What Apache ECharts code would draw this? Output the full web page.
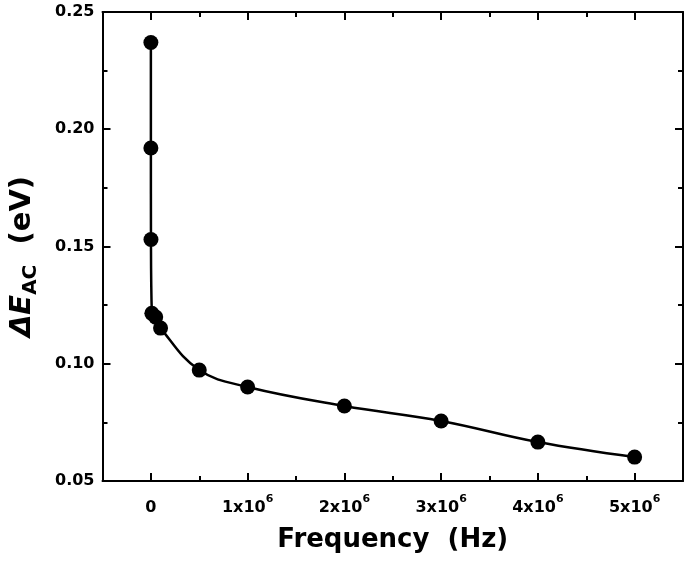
<!DOCTYPE html>
<html>
<head>
<meta charset="utf-8">
<script src="https://cdn.jsdelivr.net/npm/echarts@6/dist/echarts.min.js"></script>
<style>html,body{margin:0;padding:0;background:#fff}#c{width:685px;height:564px}</style>
</head>
<body>
<div id="c"></div>
<script>
// Data
const frequencies = [10, 100, 1000, 10000, 50000, 100000, 500000, 1000000, 2000000, 3000000, 4000000, 5000000];
const deltaE = [0.237, 0.192, 0.153, 0.1215, 0.1199, 0.1152, 0.0973, 0.0901, 0.0820, 0.0756, 0.0666, 0.0602];
const xTickValues = [0, 1000000, 2000000, 3000000, 4000000, 5000000];
const xTickBases = ['0', '1x10', '2x10', '3x10', '4x10', '5x10'];
const xTickExps = ['', '6', '6', '6', '6', '6'];
const yTickValues = [0.05, 0.10, 0.15, 0.20, 0.25];

const FONT = 'DejaVu Sans';
const X_MIN = -500000, X_MAX = 5500000;
const Y_MIN = 0.05, Y_MAX = 0.25;

const chart = echarts.init(document.getElementById('c'), null, {renderer: 'canvas'});
const lineStyleAxis = {color: '#000', width: 2};

function baseX(pos, extra) {
  return Object.assign({
    type: 'value', position: pos, min: X_MIN, max: X_MAX, interval: 500000,
    axisLine: {show: true, onZero: false, lineStyle: lineStyleAxis},
    axisTick: {show: true, inside: true, length: 5, lineStyle: lineStyleAxis},
    axisLabel: {show: false},
    splitLine: {show: false}
  }, extra || {});
}

const option = {
  animation: false,
  backgroundColor: '#fff',
  grid: {left: 100, right: 2, top: 12, bottom: 83, containLabel: false},
  xAxis: [
    baseX('bottom', {
      name: 'Frequency  (Hz)', nameLocation: 'middle', nameGap: 46,
      nameTextStyle: {fontFamily: FONT, fontWeight: 'bold', fontSize: 26, color: '#000'},
      axisLabel: {
        show: true, customValues: xTickValues, margin: 13,
        fontFamily: FONT, fontWeight: 'bold', fontSize: 16, color: '#000',
        formatter: function (v) {
          const i = xTickValues.indexOf(v);
          if (i < 0) return '';
          return '{b|' + xTickBases[i] + '}' + (xTickExps[i] ? '{s|' + xTickExps[i] + '}' : '');
        },
        rich: {
          b: {fontFamily: FONT, fontWeight: 'bold', fontSize: 16, color: '#000', lineHeight: 22, verticalAlign: 'bottom'},
          s: {fontFamily: FONT, fontWeight: 'bold', fontSize: 11, color: '#000', lineHeight: 22, verticalAlign: 'top'}
        }
      }
    }),
    baseX('bottom', {
      axisLine: {show: false},
      axisTick: {show: true, inside: true, length: 8, customValues: xTickValues, lineStyle: lineStyleAxis}
    }),
    baseX('top'),
    baseX('top', {
      axisLine: {show: false},
      axisTick: {show: true, inside: true, length: 8, customValues: xTickValues, lineStyle: lineStyleAxis}
    })
  ],
  yAxis: [
    {
      type: 'value', position: 'left', min: Y_MIN, max: Y_MAX, interval: 0.05,
      name: '{i|ΔE}{s|AC}{n|  (eV)}', nameLocation: 'middle', nameGap: 62, nameRotate: 90,
      nameTextStyle: {
        padding: [0, 20, 0, 0],
        rich: {
          i: {fontFamily: FONT, fontWeight: 'bold', fontStyle: 'italic', fontSize: 29, color: '#000', lineHeight: 36, verticalAlign: 'middle'},
          s: {fontFamily: FONT, fontWeight: 'bold', fontSize: 20, color: '#000', lineHeight: 20, verticalAlign: 'bottom'},
          n: {fontFamily: FONT, fontWeight: 'bold', fontSize: 29, color: '#000', lineHeight: 36, verticalAlign: 'middle'}
        }
      },
      axisLine: {show: true, onZero: false, lineStyle: lineStyleAxis},
      axisTick: {show: true, inside: true, length: 8, lineStyle: lineStyleAxis},
      minorTick: {show: true, splitNumber: 2, length: 5, lineStyle: lineStyleAxis},
      axisLabel: {
        show: true, margin: 8, fontFamily: FONT, fontWeight: 'bold', fontSize: 16, color: '#000',
        formatter: function (v) { return v.toFixed(2); }
      },
      splitLine: {show: false}, minorSplitLine: {show: false}
    },
    {
      type: 'value', position: 'right', min: Y_MIN, max: Y_MAX, interval: 0.05,
      axisLine: {show: true, onZero: false, lineStyle: lineStyleAxis},
      axisTick: {show: true, inside: true, length: 8, lineStyle: lineStyleAxis},
      minorTick: {show: true, splitNumber: 2, length: 5, lineStyle: lineStyleAxis},
      axisLabel: {show: false},
      splitLine: {show: false}, minorSplitLine: {show: false}
    }
  ],
  series: [{
    type: 'line',
    xAxisIndex: 0, yAxisIndex: 0,
    data: frequencies.map((f, i) => [f, deltaE[i]]),
    smooth: 0.4,
    symbol: 'circle', symbolSize: 15,
    itemStyle: {color: '#000'},
    lineStyle: {color: '#000', width: 2.5},
    z: 3
  }]
};
chart.setOption(option);
</script>
</body>
</html>
